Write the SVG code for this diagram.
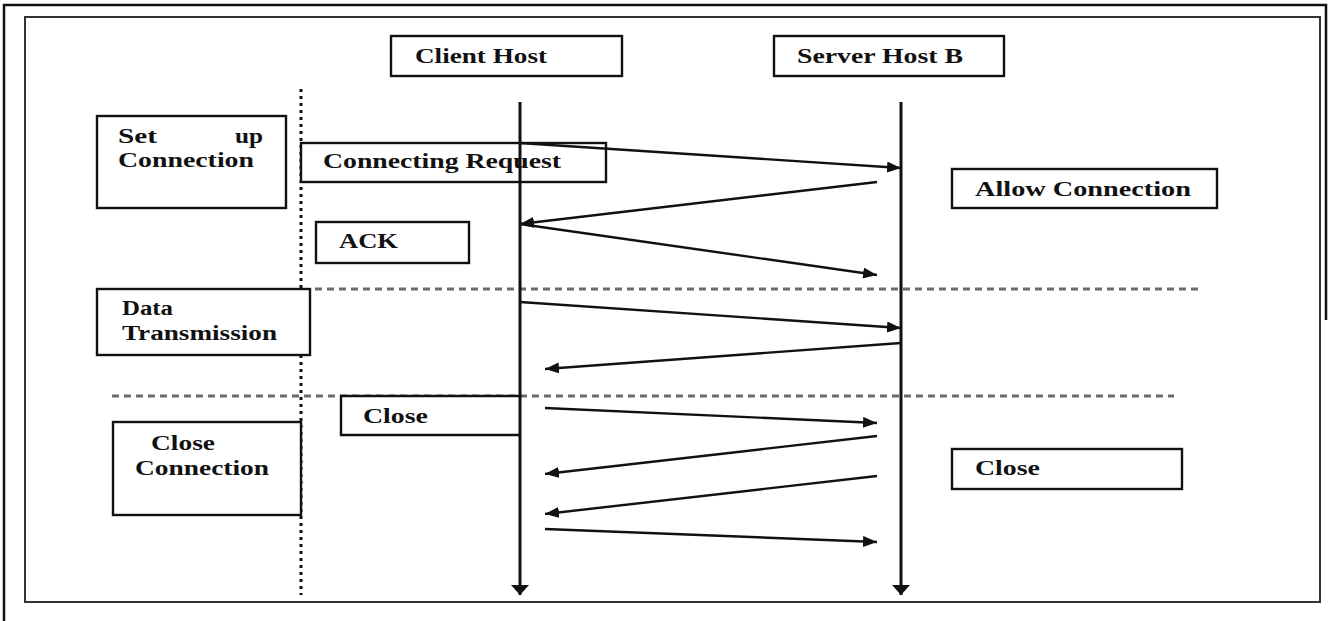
<svg xmlns="http://www.w3.org/2000/svg" width="1328" height="621" viewBox="0 0 1328 621">
<defs>
<style>
.box{fill:#fff;stroke:#111;stroke-width:2.4}
.t{font-family:"Liberation Serif","Times New Roman",serif;font-weight:bold;font-size:20px;fill:#111}
.msg{stroke:#111;stroke-width:2.4;fill:none;marker-end:url(#ah)}
.life{stroke:#111;stroke-width:3;fill:none;marker-end:url(#lh)}
.dash{stroke:#6a6a6a;stroke-width:3;stroke-dasharray:7 5;fill:none}
.dot{stroke:#111;stroke-width:3;stroke-dasharray:3 4;fill:none}
</style>
<marker id="ah" markerUnits="userSpaceOnUse" markerWidth="15" markerHeight="11" refX="14" refY="5.5" orient="auto">
<path d="M0,0 L14,5.5 L0,11 z" fill="#111"/>
</marker>
<marker id="lh" markerUnits="userSpaceOnUse" markerWidth="18" markerHeight="12" refX="9" refY="11" orient="0">
<path d="M0,1 L18,1 L9,11 z" fill="#111"/>
</marker>
</defs>
<rect width="1328" height="621" fill="#fff"/>
<path d="M4,621 V5 H1326 V320" fill="none" stroke="#111" stroke-width="2.5"/>
<rect x="25" y="17" width="1295" height="585" fill="none" stroke="#333" stroke-width="2"/>

<g id="separators">
<path class="dot" d="M301,89 V595"/>
<path class="dash" d="M315,289 H1203"/>
<path class="dash" d="M112,396 H1174"/>
</g>

<g id="client-host"><rect class="box" x="391" y="36" width="231" height="40"/><text class="t" x="415" y="63" textLength="132" lengthAdjust="spacingAndGlyphs">Client Host</text></g>
<g id="server-host"><rect class="box" x="774" y="36" width="230" height="40"/><text class="t" x="797" y="63" textLength="166" lengthAdjust="spacingAndGlyphs">Server Host B</text></g>

<g id="setup-connection"><rect class="box" x="97" y="116" width="189" height="92"/><text class="t" x="118" y="143" textLength="39" lengthAdjust="spacingAndGlyphs">Set</text><text class="t" x="235" y="143" textLength="28" lengthAdjust="spacingAndGlyphs">up</text><text class="t" x="118" y="167" textLength="136" lengthAdjust="spacingAndGlyphs">Connection</text></g>
<g id="connecting-request"><rect class="box" x="301" y="143" width="305" height="39"/><text class="t" x="323" y="168" textLength="238" lengthAdjust="spacingAndGlyphs">Connecting Request</text></g>
<g id="allow-connection"><rect class="box" x="952" y="169" width="265" height="39"/><text class="t" x="975" y="196" textLength="216" lengthAdjust="spacingAndGlyphs">Allow Connection</text></g>
<g id="ack"><rect class="box" x="316" y="222" width="153" height="41"/><text class="t" x="339" y="248" textLength="59" lengthAdjust="spacingAndGlyphs">ACK</text></g>
<g id="data-transmission"><rect class="box" x="97" y="289" width="213" height="66"/><text class="t" x="122" y="315" textLength="51" lengthAdjust="spacingAndGlyphs">Data</text><text class="t" x="122" y="340" textLength="155" lengthAdjust="spacingAndGlyphs">Transmission</text></g>
<g id="close-client"><path d="M520,396 H341 V435 H520" fill="#fff" stroke="#111" stroke-width="2.4"/><text class="t" x="363" y="423" textLength="65" lengthAdjust="spacingAndGlyphs">Close</text></g>
<g id="close-connection"><rect class="box" x="113" y="422" width="188" height="93"/><text class="t" x="151" y="450" textLength="64" lengthAdjust="spacingAndGlyphs">Close</text><text class="t" x="135" y="475" textLength="134" lengthAdjust="spacingAndGlyphs">Connection</text></g>
<g id="close-server"><rect class="box" x="952" y="449" width="230" height="40"/><text class="t" x="975" y="475" textLength="65" lengthAdjust="spacingAndGlyphs">Close</text></g>

<g id="connectors">
<path class="life" d="M520,102 V595"/>
<path class="life" d="M901,102 V595"/>
<path class="msg" d="M520,143 L901,168"/>
<path class="msg" d="M877,182 L520,224"/>
<path class="msg" d="M520,224 L877,275"/>
<path class="msg" d="M520,302 L901,328"/>
<path class="msg" d="M901,343 L545,369"/>
<path class="msg" d="M545,408 L877,423"/>
<path class="msg" d="M877,436 L545,474"/>
<path class="msg" d="M877,476 L545,514"/>
<path class="msg" d="M545,529 L877,542"/>
</g>
</svg>
